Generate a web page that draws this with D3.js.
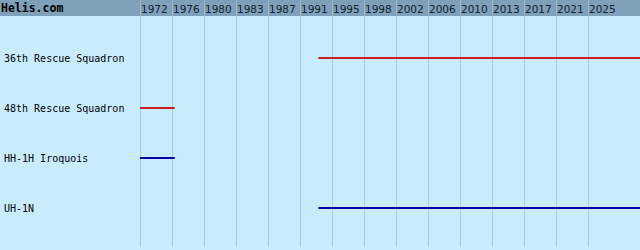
<!DOCTYPE html>
<html><head><meta charset="utf-8">
<script src="https://cdn.jsdelivr.net/npm/d3@7"></script>
<style>html,body{margin:0;padding:0;background:#c8ecfc;}svg{display:block;}</style>
</head><body>
<svg id="c" width="640" height="250"></svg>
<script>
const title = "Helis.com";
const categories = ["36th Rescue Squadron","48th Rescue Squadron","HH-1H Iroquois","UH-1N"];
const kinds = ["unit","unit","type","type"];
const startYears = [1993.1, 1972, 1972, 1993.1];
const endYears = [2032, 1976.1, 1976.1, 2032];
const tickLabels = ["1972","1976","1980","1983","1987","1991","1995","1998","2002","2006","2010","2013","2017","2021","2025"];

const W = 640, H = 250;
const colorByKind = {unit:"#c81e2a", type:"#0000a8"};
const svg = d3.select("#c");

svg.append("rect").attr("x",0).attr("y",0).attr("width",W).attr("height",H).attr("fill","#c8ecfc");
svg.append("rect").attr("x",0).attr("y",0).attr("width",W).attr("height",16).attr("fill","#7ea0b8");

const xTick = d3.scalePoint().domain(tickLabels).range([140.5, 588.5]);
const x = d3.scaleLinear().domain([1972, 2025]).range([140, 588]);
const y = d3.scaleBand().domain(categories).range([33, 233]);

// grid lines
svg.append("g").selectAll("line").data(tickLabels).join("line")
  .attr("x1", d=>xTick(d)).attr("x2", d=>xTick(d))
  .attr("y1", 16).attr("y2", 247)
  .attr("stroke", "#a9ccdc").attr("stroke-width", 1);
svg.append("g").selectAll("line").data(tickLabels).join("line")
  .attr("x1", d=>xTick(d)).attr("x2", d=>xTick(d))
  .attr("y1", 0).attr("y2", 16)
  .attr("stroke", "#9ab8cc").attr("stroke-width", 1);

svg.append("g").selectAll("text").data(tickLabels).join("text")
  .attr("x", d=>xTick(d)+0.5).attr("y", 13)
  .attr("font-family","DejaVu Sans").attr("font-size","10.5px").attr("fill","#102030")
  .text(d=>d);

svg.append("text").attr("x",1).attr("y",12)
  .attr("font-family","DejaVu Sans Mono").attr("font-weight","bold").attr("font-size","11.5px")
  .attr("fill","#000").text(title);

// labels
svg.append("g").selectAll("text").data(categories).join("text")
  .attr("x", 4).attr("y", d=>y(d)+y.bandwidth()/2+3.5)
  .attr("font-family","DejaVu Sans Mono").attr("font-size","10px").attr("fill","#000")
  .text(d=>d);

// bars
svg.append("g").selectAll("line").data(categories).join("line")
  .attr("x1", (d,i)=>x(startYears[i])).attr("x2", (d,i)=>Math.min(W, x(endYears[i])))
  .attr("y1", d=>y(d)+y.bandwidth()/2).attr("y2", d=>y(d)+y.bandwidth()/2)
  .attr("stroke", (d,i)=>colorByKind[kinds[i]]).attr("stroke-width", 2);
</script>
</body></html>
